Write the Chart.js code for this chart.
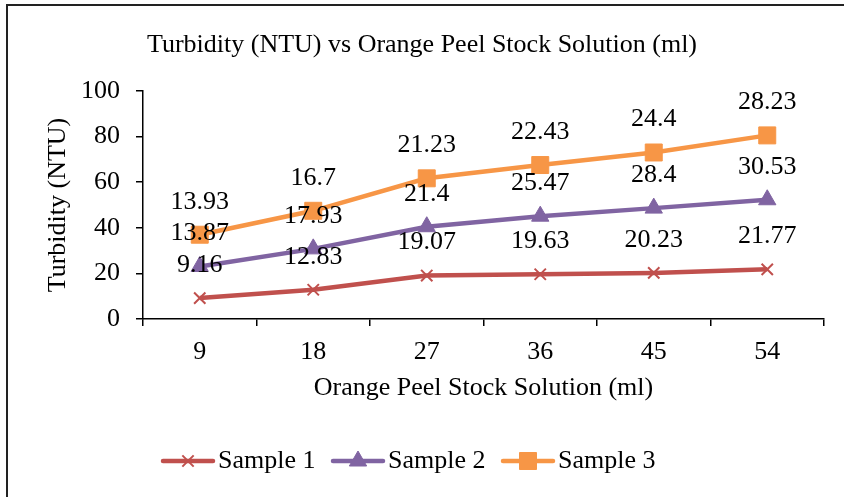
<!DOCTYPE html>
<html>
<head>
<meta charset="utf-8">
<script src="https://cdn.jsdelivr.net/npm/chart.js@4.4.0/dist/chart.umd.min.js"></script>
<style>
  html, body { margin: 0; padding: 0; background: #fff; }
  #wrap { width: 844px; height: 497px; position: relative; }
</style>
</head>
<body>
<div id="wrap"><canvas id="c" width="844" height="497"></canvas></div>
<script>
const categories = ["9", "18", "27", "36", "45", "54"];
const sample1 = [9.16, 12.83, 19.07, 19.63, 20.23, 21.77];
const sample2 = [13.87, 17.93, 21.4, 25.47, 28.4, 30.53];
const sample3 = [13.93, 16.7, 21.23, 22.43, 24.4, 28.23];
const seriesNames = ["Sample 1", "Sample 2", "Sample 3"];
const yTicks = [0, 20, 40, 60, 80, 100];
const chartTitle = "Turbidity (NTU) vs Orange Peel Stock Solution (ml)";

const FONT = "'Liberation Serif', 'Times New Roman', serif";
const FS = 26;
const colors = ["#C0504D", "#8064A2", "#F79646"];
const styles = [
  { pointStyle: "crossRot", radius: 8, borderWidth: 2 },
  { pointStyle: "triangle", radius: 10, borderWidth: 1 },
  { pointStyle: "rect", radius: 12, borderWidth: 1 }
];
const values = [sample1, sample2, sample3];

const datasets = values.map((v, i) => ({
  label: seriesNames[i],
  data: v,
  borderColor: colors[i],
  backgroundColor: colors[i],
  pointBackgroundColor: colors[i],
  pointBorderColor: colors[i],
  borderWidth: 4.5,
  pointStyle: styles[i].pointStyle,
  pointRadius: styles[i].radius,
  pointHoverRadius: styles[i].radius,
  pointBorderWidth: styles[i].borderWidth,
  tension: 0,
  fill: false
}));

const framePlugin = {
  id: "frame",
  beforeDraw(chart) {
    const ctx = chart.ctx;
    ctx.save();
    ctx.fillStyle = "#fff";
    ctx.fillRect(0, 0, chart.width, chart.height);
    ctx.strokeStyle = "#222";
    ctx.lineWidth = 2;
    ctx.beginPath();
    ctx.moveTo(7, 497);
    ctx.lineTo(7, 5);
    ctx.lineTo(844, 5);
    ctx.stroke();
    ctx.fillStyle = "#000";
    ctx.font = FS + "px " + FONT;
    ctx.textAlign = "center";
    ctx.textBaseline = "middle";
    ctx.fillText(chartTitle, 422, 45);
    ctx.restore();
  }
};

const labelPlugin = {
  id: "valueLabels",
  afterDatasetsDraw(chart) {
    const ctx = chart.ctx;
    ctx.save();
    ctx.font = FS + "px " + FONT;
    ctx.fillStyle = "#000";
    ctx.textAlign = "center";
    ctx.textBaseline = "middle";
    chart.data.datasets.forEach((ds, di) => {
      const meta = chart.getDatasetMeta(di);
      meta.data.forEach((pt, i) => {
        ctx.fillText(String(values[di][i]), pt.x, pt.y - 33);
      });
    });
    ctx.restore();
  }
};

const legendPlugin = {
  id: "customLegend",
  afterDraw(chart) {
    const ctx = chart.ctx;
    const starts = [163, 333, 503];
    const y = 461;
    ctx.save();
    chart.data.datasets.forEach((ds, i) => {
      const x0 = starts[i];
      ctx.strokeStyle = colors[i];
      ctx.lineWidth = 4.5;
      ctx.lineCap = "round";
      ctx.beginPath();
      ctx.moveTo(x0, y);
      ctx.lineTo(x0 + 50, y);
      ctx.stroke();
      ctx.fillStyle = colors[i];
      ctx.strokeStyle = colors[i];
      ctx.lineWidth = styles[i].borderWidth;
      ctx.lineCap = "butt";
      Chart.helpers.drawPoint(ctx, {
        pointStyle: styles[i].pointStyle,
        radius: styles[i].radius,
        rotation: 0,
        borderWidth: styles[i].borderWidth
      }, x0 + 25, y);
      ctx.fillStyle = "#000";
      ctx.font = FS + "px " + FONT;
      ctx.textAlign = "left";
      ctx.textBaseline = "middle";
      ctx.fillText(ds.label, x0 + 55, y);
    });
    ctx.restore();
  }
};

new Chart(document.getElementById("c"), {
  type: "line",
  data: { labels: categories, datasets },
  plugins: [framePlugin, labelPlugin, legendPlugin],
  options: {
    responsive: false,
    animation: false,
    devicePixelRatio: 1,
    layout: { padding: { left: 0, right: 20, top: 0, bottom: 80 } },
    plugins: {
      legend: { display: false },
      tooltip: { enabled: false },
      title: {
        display: true,
        text: chartTitle,
        color: "rgba(0,0,0,0)",
        font: { family: FONT, size: FS, weight: "normal", lineHeight: 1.2 },
        padding: { top: 29.5, bottom: 30.3 }
      }
    },
    scales: {
      x: {
        offset: true,
        grid: { offset: true, drawOnChartArea: false, drawTicks: true, tickLength: 7, color: "#000", lineWidth: 1.5 },
        border: { color: "#000", width: 1.5 },
        ticks: { color: "#000", padding: 10.5, font: { family: FONT, size: FS }, maxRotation: 0 },
        title: {
          display: true,
          text: "Orange Peel Stock Solution (ml)",
          color: "#000",
          font: { family: FONT, size: FS, lineHeight: 1.2 },
          padding: { top: 0, bottom: 13.5 }
        },
        afterFit(scale) { scale.height = 98; }
      },
      y: {
        stacked: true,
        min: 0,
        max: 100,
        afterBuildTicks(scale) { scale.ticks = yTicks.map(v => ({ value: v })); },
        grid: { drawOnChartArea: false, drawTicks: true, tickLength: 7, color: "#000", lineWidth: 1.5 },
        border: { color: "#000", width: 1.5 },
        ticks: { color: "#000", padding: 16, font: { family: FONT, size: FS } },
        title: {
          display: true,
          text: "Turbidity (NTU)",
          color: "#000",
          font: { family: FONT, size: FS, lineHeight: 1.2 },
          padding: { top: 42.5, bottom: 0 }
        },
        afterFit(scale) { scale.width = 143; }
      }
    }
  }
});
</script>
</body>
</html>
